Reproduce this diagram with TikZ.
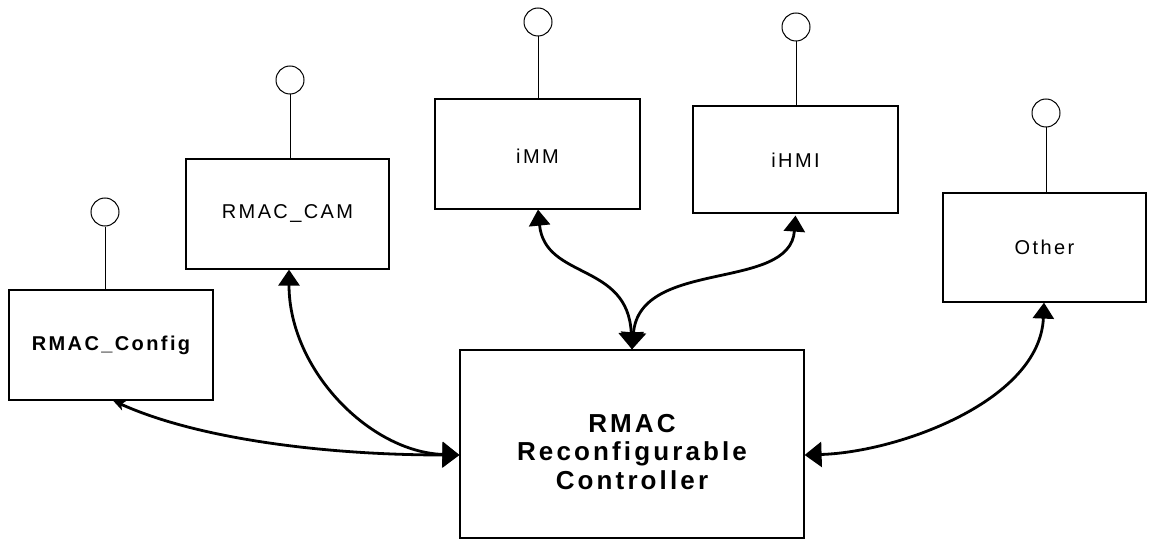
\documentclass[tikz,border=0pt]{standalone}
\usepackage{fontspec}
\setmainfont{Liberation Sans}
\newfontfamily\spacedfont[LetterSpace=12]{Liberation Sans}
\usetikzlibrary{arrows.meta}
\tikzset{
  box/.style={draw, line width=1.2pt, fill=white, anchor=center, inner sep=0pt},
  port/.style={draw, circle, line width=1pt, minimum size=28pt, inner sep=0pt},
  stem/.style={line width=1pt},
  link/.style={line width=2.8pt, line cap=round},
  bigtip/.tip={Triangle[length=17pt,width=25pt]},
  midtip/.tip={Triangle[length=16pt,width=21pt]},
  smalltip/.tip={Stealth[length=12pt,width=10pt,inset=3pt]},
  lbl/.style={font=\spacedfont\fontsize{20}{24}\selectfont, align=center},
  blbl/.style={font=\spacedfont\bfseries\fontsize{20}{24}\selectfont, align=center},
  mainlbl/.style={font=\spacedfont\bfseries\fontsize{26}{28.5}\selectfont, align=center}
}
\begin{document}
\begin{tikzpicture}[x=1pt,y=-1pt]
\useasboundingbox (0,0) rectangle (1149,559);
\fill[white] (0,0) rectangle (1149,559);

% boxes
\node[box, minimum width=204pt, minimum height=110pt] (config) at (111,345) {};
\node[blbl] (configtext) at (111,345) {RMAC\_Config};
\node[box, minimum width=203pt, minimum height=110pt] (cam) at (287.5,214) {};
\node[lbl] (camtext) at (287.5,214) {RMAC\_CAM};
\node[box, minimum width=205pt, minimum height=110pt] (imm) at (537.5,154) {};
\node[lbl] (immtext) at (537.5,156) {iMM};
\node[box, minimum width=205pt, minimum height=107pt] (ihmi) at (795.5,159.5) {};
\node[lbl] (ihmitext) at (795.5,160) {iHMI};
\node[box, minimum width=203pt, minimum height=109pt] (other) at (1044.5,247.5) {};
\node[lbl] (othertext) at (1044.5,247.5) {Other};
\node[box, minimum width=344pt, minimum height=188pt] (main) at (632,444) {};
\node[mainlbl] (maintext) at (632,452) {RMAC\\Reconfigurable\\Controller};

% ports
\node[port] (pconfig) at (105,212) {};
\node[port] (pcam) at (290,80) {};
\node[port] (pimm) at (538,22) {};
\node[port] (pihmi) at (796,27) {};
\node[port] (pother) at (1046,113) {};
\draw[stem] (pconfig.south) -- (pconfig.south |- config.north);
\draw[stem] (pcam.south) -- (pcam.south |- cam.north);
\draw[stem] (pimm.south) -- (pimm.south |- imm.north);
\draw[stem] (pihmi.south) -- (pihmi.south |- ihmi.north);
\draw[stem] (pother.south) -- (pother.south |- other.north);

% connectors
\coordinate (mainL) at ([yshift=-11pt]main.west);
\coordinate (mainR) at ([yshift=-11pt]main.east);
\draw[link, {smalltip}-{bigtip}] ([xshift=2pt]config.south) .. controls (200,440) and (330,455) .. (mainL);
\draw[link, {midtip}-{bigtip}] ([xshift=1.5pt]cam.south) .. controls (289,370) and (370,452) .. (mainL);
\draw[link, {midtip}-{bigtip}] ([xshift=0.5pt]imm.south) .. controls (545,280) and (628,262) .. (main.north);
\draw[link, {midtip}-{bigtip}] ([yshift=-2pt]ihmi.south) .. controls (790,292) and (640,258) .. (main.north);
\draw[link, {midtip}-{bigtip}] ([xshift=-0.5pt]other.south) .. controls (1040,400) and (900,452) .. (mainR);
\end{tikzpicture}
\end{document}
